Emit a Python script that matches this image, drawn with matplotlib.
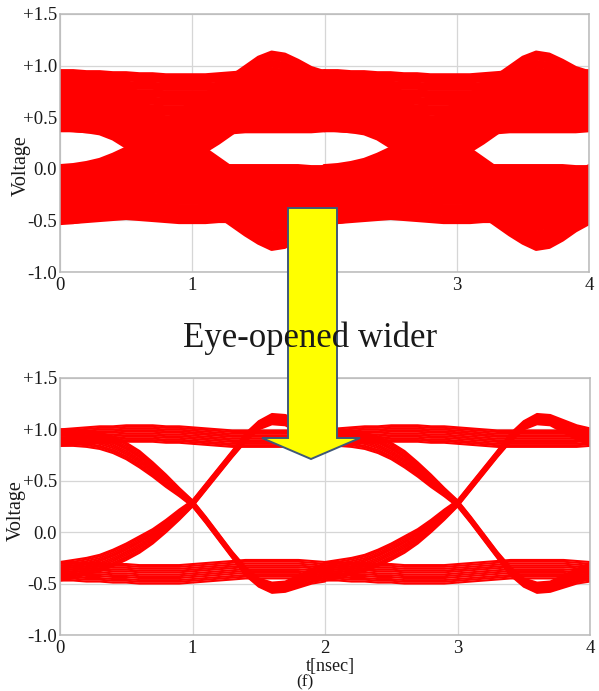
import matplotlib
matplotlib.use("Agg")
import matplotlib.pyplot as plt
from matplotlib.patches import Polygon
import numpy as np

plt.rcParams['font.family'] = ['Liberation Serif', 'DejaVu Serif']

# ---------------- data ----------------
# time knots (ns) for one 2-ns unit interval; the eye is drawn for two UIs
t_knots = [0.0, 0.1, 0.2, 0.3, 0.4, 0.5, 0.6, 0.7, 0.8, 0.9, 1.0,
           1.1, 1.2, 1.3, 1.4, 1.5, 1.6, 1.7, 1.8, 1.9, 2.0]
ui_starts = [0.0, 2.0]

# upper panel (before): noisy, closed eye
top_hh = [0.66, 0.66, 0.65, 0.65, 0.64, 0.64, 0.63, 0.63, 0.62, 0.62, 0.62,
          0.62, 0.63, 0.64, 0.65, 0.65, 0.65, 0.65, 0.65, 0.65, 0.66]
top_ll = [-0.25, -0.25, -0.24, -0.23, -0.22, -0.21, -0.22, -0.23, -0.24, -0.25, -0.25,
          -0.25, -0.24, -0.24, -0.24, -0.24, -0.24, -0.24, -0.24, -0.25, -0.25]
top_lh = [-0.25, -0.24, -0.22, -0.19, -0.14, -0.08, 0.00, 0.09, 0.19, 0.28, 0.37,
          0.45, 0.53, 0.62, 0.71, 0.80, 0.85, 0.83, 0.77, 0.70, 0.66]
top_hl = [0.66, 0.65, 0.64, 0.62, 0.57, 0.49, 0.40, 0.30, 0.20, 0.10, 0.00,
          -0.09, -0.18, -0.27, -0.36, -0.44, -0.50, -0.48, -0.41, -0.32, -0.25]
top_spread = [0.29, 0.27, 0.28, 0.28]

# lower panel (after): clean, open eye
bot_hh = [0.92, 0.93, 0.94, 0.95, 0.95, 0.96, 0.96, 0.96, 0.95, 0.95, 0.94,
          0.93, 0.92, 0.91, 0.91, 0.91, 0.91, 0.91, 0.91, 0.91, 0.92]
bot_ll = [-0.38, -0.38, -0.39, -0.39, -0.40, -0.40, -0.41, -0.41, -0.41, -0.41, -0.40,
          -0.39, -0.38, -0.37, -0.36, -0.36, -0.36, -0.36, -0.36, -0.37, -0.38]
bot_lh = [-0.38, -0.36, -0.33, -0.30, -0.25, -0.19, -0.12, -0.04, 0.06, 0.17, 0.28,
          0.44, 0.60, 0.76, 0.92, 1.04, 1.10, 1.09, 1.03, 0.97, 0.93]
bot_hl = [0.92, 0.92, 0.91, 0.89, 0.85, 0.79, 0.71, 0.61, 0.50, 0.39, 0.28,
          0.12, -0.05, -0.22, -0.38, -0.49, -0.54, -0.53, -0.48, -0.43, -0.39]
bot_spread_hh = 0.08
bot_spread_ll = 0.09
bot_spread_lh = [0.09, 0.09, 0.08, 0.08, 0.08, 0.08, 0.08, 0.07, 0.06, 0.05, 0.03,
                 0.03, 0.03, 0.03, 0.04, 0.04, 0.05, 0.05, 0.06, 0.07, 0.08]
bot_spread_hl = [0.08, 0.08, 0.08, 0.08, 0.08, 0.08, 0.08, 0.07, 0.06, 0.04, 0.03,
                 0.03, 0.03, 0.03, 0.04, 0.04, 0.05, 0.05, 0.06, 0.07, 0.09]

# relative trace positions inside each band (fraction of the spread)
top_fracs = [-1.0, -0.95, -0.88, -0.8, -0.71, -0.63, -0.55, -0.47, -0.4, -0.31,
             -0.23, -0.15, -0.07, 0.02, 0.1, 0.18, 0.27, 0.35, 0.43, 0.52,
             0.6, 0.68, 0.77, 0.85, 0.91, 0.96, 1.0]
bot_fracs = [-1.0, -0.8, -0.62, -0.4, -0.2, 0.0, 0.22, 0.4, 0.6, 0.81, 1.0]

y_ticks = [-1.0, -0.5, 0.0, 0.5, 1.0, 1.5]
y_tick_labels = ['-1.0', '-0.5', '0.0', '+0.5', '+1.0', '+1.5']
x_ticks = [0, 1, 2, 3, 4]
x_tick_labels = ['0', '1', '2', '3', '4']

# ---------------- figure ----------------
W, H = 599, 691
fig = plt.figure(figsize=(W / 100, H / 100), dpi=100)
fig.patch.set_facecolor('white')

ax_top = fig.add_axes([60 / W, 1 - 272 / H, 529 / W, 258 / H])
ax_bot = fig.add_axes([60 / W, 1 - 635 / H, 530 / W, 257 / H])

TRACE = '#ff0000'


def draw_eye(ax, templates, spreads, fracs, lw):
    for start in ui_starts:
        t = np.array(t_knots) + start
        for tmpl, spr in zip(templates, spreads):
            v = np.array(tmpl)
            s = np.broadcast_to(np.array(spr, dtype=float), v.shape)
            for f in fracs:
                ax.plot(t, v + f * s, color=TRACE, lw=lw,
                        solid_joinstyle='round', solid_capstyle='round',
                        zorder=2)


draw_eye(ax_top, [top_hh, top_ll, top_lh, top_hl], top_spread, top_fracs, 2.4)
draw_eye(ax_bot, [bot_hh, bot_ll, bot_lh, bot_hl],
         [bot_spread_hh, bot_spread_ll, bot_spread_lh, bot_spread_hl],
         bot_fracs, 1.5)

for ax in (ax_top, ax_bot):
    ax.set_xlim(0, 4)
    ax.set_ylim(-1.0, 1.5)
    ax.set_xticks(x_ticks)
    ax.set_xticklabels(x_tick_labels)
    ax.set_yticks(y_ticks)
    ax.set_yticklabels(y_tick_labels)
    ax.tick_params(length=0, labelsize=13.5, colors='#1a1a1a')
    ax.tick_params(axis='y', pad=2)
    ax.tick_params(axis='x', pad=3.5)
    ax.grid(True, color='#d6d6d6', lw=0.9)
    ax.set_axisbelow(True)
    for sp in ax.spines.values():
        sp.set_color('#b9b9b9')
        sp.set_linewidth(1.1)
    ax.set_ylabel('Voltage', fontsize=14.5, color='#1a1a1a')
    ax.yaxis.label.set_va('center')

ax_top.yaxis.set_label_coords((21 - 60) / 529, (272 - 166) / 258)
ax_bot.yaxis.set_label_coords((16 - 60) / 530, (635 - 511) / 257)

ax_bot.set_xlabel('t[nsec]', fontsize=13, color='#1a1a1a')
ax_bot.xaxis.label.set_va('center')
ax_bot.xaxis.set_label_coords((330 - 60) / 530, (635 - 666) / 257)

fig.text(305 / W, 1 - 682 / H, '(f)', ha='center', va='center',
         fontsize=12.5, color='#1a1a1a')

# yellow arrow annotation (figure pixel outline)
arrow_px = [(288, 208), (337, 208), (337, 438), (360, 438), (311, 459),
            (262, 438), (288, 438)]
arrow = Polygon([(x / W, 1 - y / H) for x, y in arrow_px], closed=True,
                transform=fig.transFigure, facecolor='#ffff00',
                edgecolor='#3f5878', lw=1.4, zorder=5)
fig.add_artist(arrow)

fig.text(183 / W, 1 - 347 / H, 'Eye-opened wider', ha='left', va='baseline',
         fontsize=25, color='#1a1a1a', zorder=6)

fig.savefig('out.png', dpi=100)
